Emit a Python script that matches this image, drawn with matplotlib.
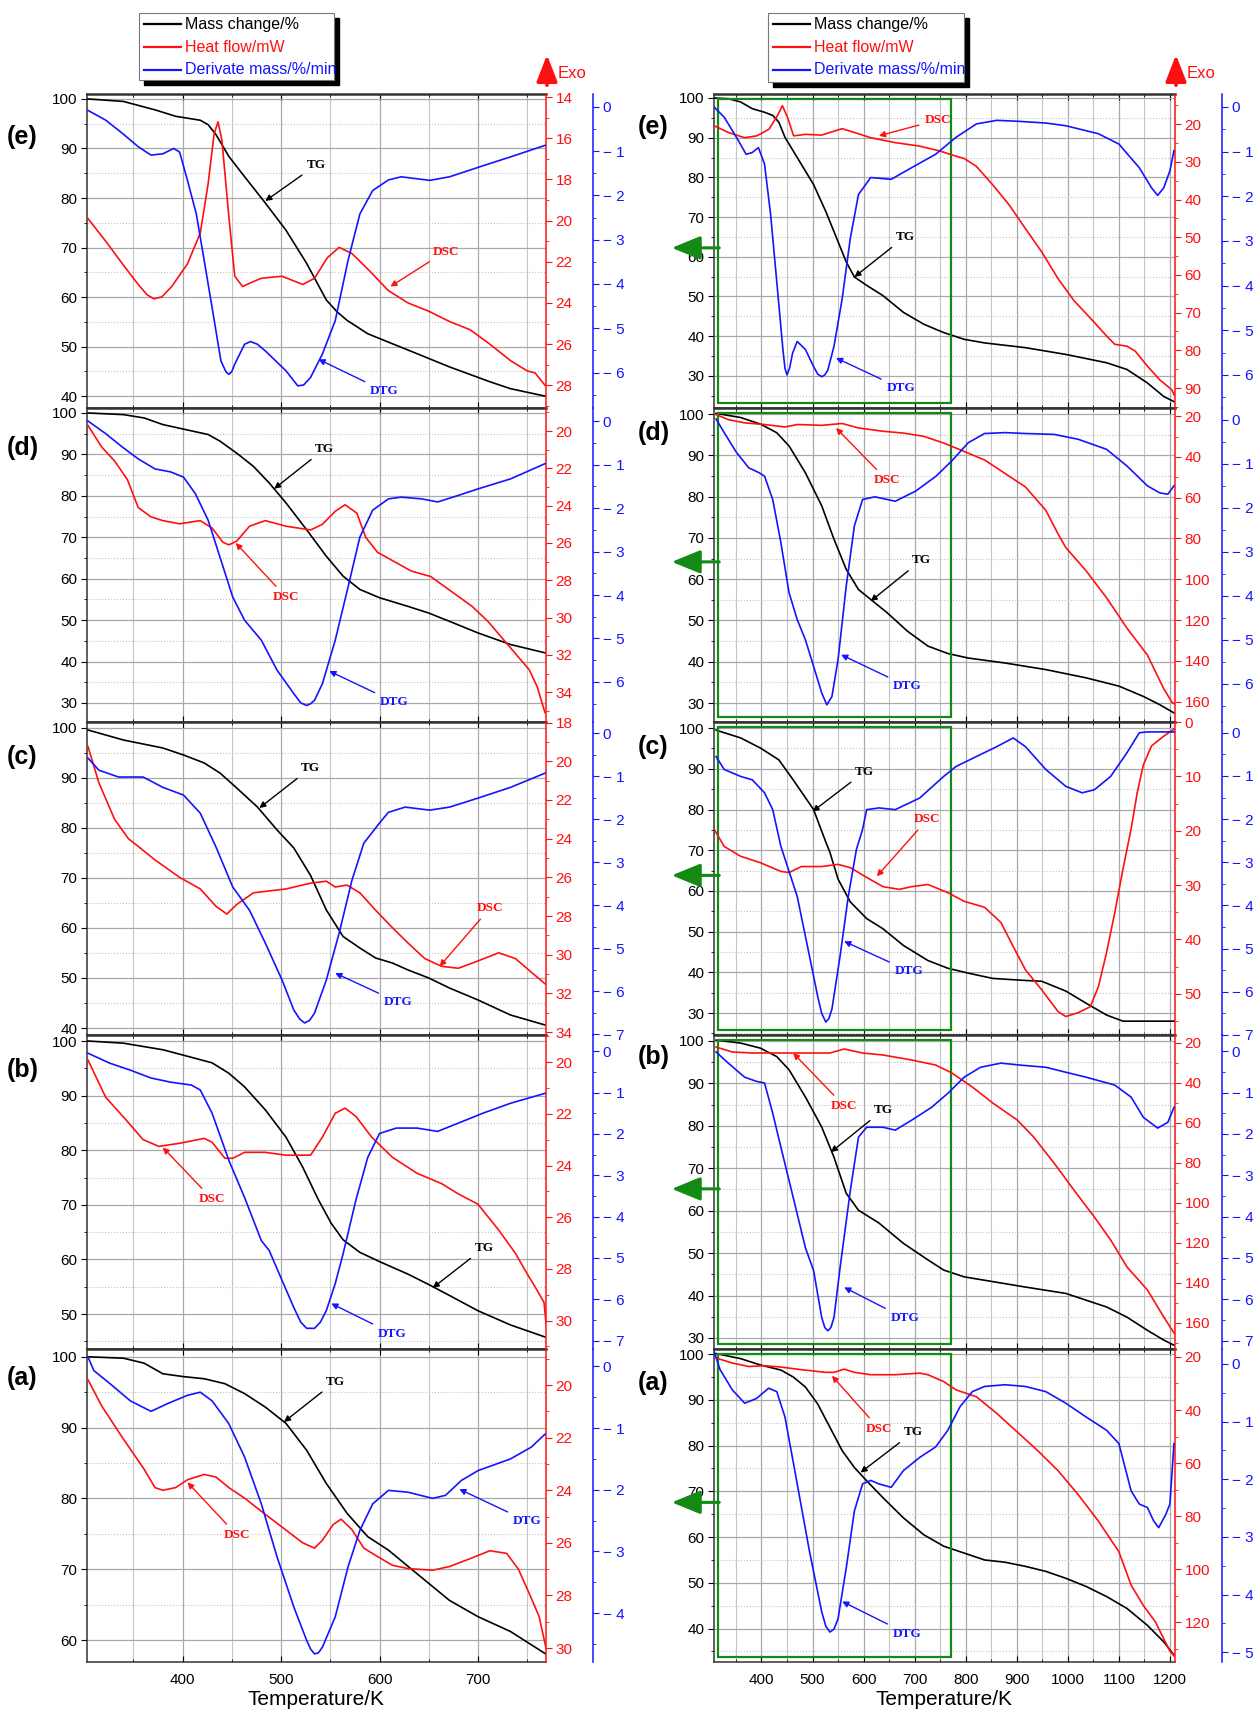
import matplotlib.pyplot as plt
import matplotlib.transforms as mtransforms
from matplotlib.lines import Line2D
from matplotlib.patches import Rectangle, FancyArrowPatch
from matplotlib.ticker import MultipleLocator, FuncFormatter

plt.rcParams['font.family'] = ['Liberation Sans', 'DejaVu Sans']

W, H = 1255, 1714

# ---------------- data: (temperature/K, value) ----------------
# left column
le_tg = [(304,100),(340,99.5),(372,97.8),(393,96.5),(418,95.7),(426,94.8),(434,92.8),(447,88.4),(463,84.3),(484,79),(505,73.5),(526,66.8),(546,59.4),(557,57),(567,55.3),(588,52.6),(609,50.9),(629,49.3),(671,45.9),(712,42.9),(733,41.5),(768,40)]
le_dsc = [(304,19.9),(322,21.0),(339,22.1),(355,23.1),(364,23.6),(371,23.8),(379,23.7),(389,23.2),(405,22.1),(418,20.6),(426,18.2),(432,15.8),(436,15.2),(440,16.1),(447,19.8),(453,22.7),(461,23.2),(470,23.0),(480,22.8),(501,22.7),(522,23.1),(534,22.8),(547,21.8),(559,21.3),(572,21.6),(589,22.4),(609,23.4),(629,24.0),(650,24.4),(671,24.9),(692,25.3),(712,26.0),(733,26.8),(750,27.3),(758,27.4),(768,28.0)]
le_dtg = [(304,-0.08),(322,-0.3),(339,-0.6),(355,-0.9),(368,-1.09),(380,-1.06),(391,-0.94),(397,-1.02),(405,-1.66),(414,-2.42),(422,-3.47),(430,-4.53),(439,-5.74),(444,-5.98),(447,-6.04),(450,-5.98),(453,-5.81),(463,-5.36),(469,-5.3),(476,-5.36),(484,-5.51),(505,-5.96),(517,-6.30),(523,-6.28),(530,-6.11),(542,-5.58),(555,-4.83),(568,-3.47),(580,-2.42),(593,-1.89),(609,-1.65),(622,-1.58),(651,-1.66),(671,-1.58),(712,-1.28),(733,-1.13),(768,-0.87)]

ld_tg = [(304,100),(340,99.6),(361,98.8),(380,97.2),(401,96.1),(426,94.8),(438,93.2),(455,90.3),(472,87.1),(488,83.1),(505,78.3),(526,71.8),(546,65.4),(563,60.6),(580,57.4),(600,55.4),(629,53.3),(650,51.7),(671,49.7),(700,46.9),(733,44.1),(768,42.1)]
ld_dsc = [(304,19.7),(318,20.86),(331,21.6),(344,22.6),(355,24.1),(368,24.6),(380,24.8),(397,24.97),(418,24.8),(430,25.2),(441,25.96),(447,26.1),(455,25.9),(468,25.1),(484,24.8),(505,25.1),(530,25.3),(542,25.0),(555,24.3),(565,23.95),(577,24.4),(586,25.7),(598,26.5),(615,27.0),(632,27.5),(652,27.8),(673,28.6),(694,29.4),(710,30.2),(731,31.5),(752,32.8),(760,33.7),(768,35.1)]
ld_dtg = [(304,0.0),(322,-0.29),(339,-0.6),(355,-0.87),(372,-1.1),(388,-1.17),(401,-1.29),(413,-1.67),(426,-2.28),(438,-3.13),(451,-4.05),(463,-4.58),(480,-5.04),(496,-5.73),(513,-6.27),(520,-6.48),(526,-6.54),(530,-6.5),(534,-6.42),(542,-6.04),(555,-5.04),(568,-3.82),(580,-2.67),(593,-2.05),(609,-1.79),(622,-1.75),(643,-1.79),(659,-1.86),(680,-1.71),(700,-1.56),(733,-1.33),(768,-0.98)]

lc_tg = [(304,99.6),(340,97.6),(380,96),(401,94.6),(422,93),(438,91),(455,88),(476,84.2),(496,79.6),(513,76),(530,70.5),(546,63.6),(563,58.3),(580,56),(596,54),(613,53),(629,51.6),(650,50),(671,48),(700,45.6),(733,42.6),(768,40.6)]
lc_dsc = [(304,19.24),(315,21.1),(331,23.0),(345,24.0),(355,24.4),(372,25.1),(397,26.0),(418,26.6),(434,27.5),(445,27.9),(455,27.4),(472,26.8),(505,26.6),(530,26.3),(546,26.2),(555,26.5),(567,26.4),(580,26.8),(596,27.7),(613,28.6),(629,29.4),(646,30.2),(663,30.6),(680,30.7),(696,30.4),(721,29.9),(738,30.2),(754,30.9),(768,31.5)]
lc_dtg = [(304,-0.58),(315,-0.86),(335,-1.02),(360,-1.02),(380,-1.26),(401,-1.44),(418,-1.86),(434,-2.65),(451,-3.58),(468,-4.12),(484,-4.88),(501,-5.74),(513,-6.44),(519,-6.65),(524,-6.74),(529,-6.68),(534,-6.51),(546,-5.74),(559,-4.65),(572,-3.42),(584,-2.56),(600,-2.09),(609,-1.84),(626,-1.72),(651,-1.79),(671,-1.72),(700,-1.51),(733,-1.26),(768,-0.93)]

lb_tg = [(304,100),(340,99.6),(380,98.4),(401,97.4),(430,96),(447,94.1),(463,91.6),(484,87.4),(505,82.4),(522,76.9),(538,70.9),(551,66.6),(563,63.6),(580,61.3),(600,59.6),(629,57.3),(650,55.4),(671,53.4),(700,50.6),(733,48),(768,45.8)]
lb_dsc = [(304,19.92),(322,21.36),(343,22.25),(360,23.0),(376,23.26),(397,23.14),(422,22.95),(430,23.1),(443,23.72),(451,23.72),(463,23.49),(484,23.49),(505,23.6),(530,23.6),(542,22.9),(555,21.98),(565,21.78),(576,22.1),(592,22.9),(613,23.68),(638,24.3),(663,24.7),(680,25.1),(700,25.5),(721,26.5),(738,27.4),(750,28.2),(758,28.7),(767,29.3),(769,30.1)]
lb_dtg = [(304,-0.05),(326,-0.29),(347,-0.46),(368,-0.65),(388,-0.75),(409,-0.82),(418,-0.94),(430,-1.5),(447,-2.64),(463,-3.54),(480,-4.58),(488,-4.82),(501,-5.54),(513,-6.2),(520,-6.55),(526,-6.7),(534,-6.7),(540,-6.55),(546,-6.27),(555,-5.62),(563,-4.9),(576,-3.6),(588,-2.57),(600,-1.99),(617,-1.86),(638,-1.86),(659,-1.94),(680,-1.74),(705,-1.5),(733,-1.26),(768,-1.02)]

la_tg = [(304,100),(340,99.8),(361,99.1),(380,97.6),(401,97.2),(422,96.9),(443,96.2),(463,94.8),(484,92.9),(505,90.6),(526,86.8),(546,82.1),(567,77.9),(588,74.6),(609,72.7),(629,70.4),(650,68),(671,65.6),(700,63.3),(733,61.2),(768,58.1)]
la_dsc = [(304,19.8),(318,20.8),(339,22.0),(361,23.2),(372,23.9),(380,24.0),(393,23.9),(405,23.6),(422,23.4),(434,23.5),(447,23.9),(463,24.3),(480,24.8),(501,25.4),(522,26.0),(534,26.2),(542,25.9),(553,25.3),(561,25.1),(572,25.5),(584,26.2),(597,26.5),(613,26.85),(629,26.98),(654,27.04),(671,26.9),(692,26.6),(712,26.3),(729,26.4),(741,27.0),(754,28.1),(762,28.8),(769,30.0)]
la_dtg = [(304,0.15),(310,-0.07),(327,-0.29),(347,-0.56),(368,-0.73),(384,-0.61),(405,-0.47),(418,-0.42),(430,-0.56),(447,-0.93),(463,-1.47),(480,-2.23),(496,-3.09),(513,-3.9),(526,-4.44),(530,-4.58),(534,-4.66),(538,-4.64),(542,-4.55),(555,-4.06),(568,-3.25),(580,-2.66),(593,-2.23),(609,-2.01),(629,-2.04),(654,-2.14),(667,-2.09),(683,-1.85),(700,-1.69),(733,-1.5),(754,-1.31),(768,-1.1)]

# right column
re_tg = [(307,100),(335,99.8),(359,99),(382,97.3),(406,96.4),(422,95.6),(434,93.9),(446,90.1),(470,85),(502,78.2),(526,71.4),(550,63.8),(566,58.7),(582,54.9),(606,52.8),(638,50.2),(678,46),(718,43),(757,40.9),(797,39.2),(837,38.3),(917,37.1),(996,35.4),(1076,33.3),(1116,31.6),(1156,28.2),(1188,24.8),(1208,23.5)]
re_dsc = [(307,20.4),(335,22.2),(367,23.6),(391,23.1),(415,21.3),(431,17.8),(441,15.1),(451,18.2),(463,23.1),(486,22.7),(518,22.9),(534,22.2),(558,21.2),(582,22.2),(614,23.6),(662,24.9),(709,25.8),(749,27.1),(781,28.5),(797,29.1),(821,31.2),(853,36.1),(885,41.4),(917,47.7),(949,53.9),(981,61),(1012,66.8),(1052,72.6),(1076,76.2),(1092,78.4),(1116,78.9),(1132,80.2),(1156,84.2),(1180,87.8),(1204,90.5),(1208,91.8)]
re_dtg = [(307,0),(327,-0.23),(351,-0.68),(370,-1.06),(382,-1.02),(394,-0.91),(406,-1.28),(418,-2.42),(430,-3.92),(442,-5.43),(446,-5.85),(450,-6.0),(455,-5.85),(461,-5.51),(470,-5.25),(486,-5.43),(502,-5.81),(510,-5.98),(518,-6.04),(524,-6.0),(530,-5.89),(542,-5.36),(558,-4.3),(574,-2.94),(590,-1.96),(614,-1.58),(654,-1.62),(694,-1.36),(741,-1.06),(781,-0.68),(821,-0.38),(861,-0.3),(901,-0.32),(957,-0.36),(996,-0.42),(1060,-0.6),(1100,-0.83),(1140,-1.36),(1164,-1.81),(1176,-1.98),(1188,-1.81),(1200,-1.43),(1208,-0.98)]

rd_tg = [(311,100.2),(359,99.2),(398,97.6),(430,95.5),(454,92.3),(486,85.8),(518,77.8),(542,69.7),(566,62.4),(590,57.5),(614,55.1),(646,51.9),(686,47.4),(726,43.8),(765,42),(805,40.9),(877,39.7),(957,38.1),(1036,36.1),(1100,34.1),(1148,31.6),(1180,29.6),(1208,27.6)]
rd_dsc = [(311,19.2),(335,21.7),(367,23.3),(406,24.1),(446,25.3),(470,24.1),(518,24.5),(558,23.6),(590,25.8),(638,27.4),(678,28.3),(718,29.9),(757,33.2),(797,37.3),(837,41.5),(877,48.1),(917,54.7),(957,66.2),(981,77.8),(996,84.4),(1036,95.9),(1076,109.1),(1116,124),(1156,137.2),(1188,153.7),(1204,160.3),(1208,161)]
rd_dtg = [(311,0.02),(327,-0.29),(351,-0.74),(375,-1.09),(395,-1.2),(406,-1.28),(422,-1.81),(438,-2.79),(454,-3.93),(470,-4.54),(486,-5.0),(502,-5.6),(518,-6.21),(528,-6.48),(538,-6.29),(550,-5.45),(566,-3.78),(582,-2.41),(598,-1.81),(622,-1.75),(662,-1.85),(702,-1.62),(742,-1.28),(773,-0.93),(805,-0.52),(837,-0.31),(877,-0.29),(917,-0.31),(973,-0.33),(1020,-0.44),(1076,-0.67),(1116,-1.05),(1156,-1.5),(1180,-1.66),(1196,-1.69),(1208,-1.5)]

rc_tg = [(311,99.5),(359,97.6),(398,95.1),(434,92.2),(462,87.3),(502,80),(526,72),(534,69.5),(550,62.9),(574,57.3),(606,53.2),(638,50.7),(678,46.6),(726,42.9),(765,41),(805,39.8),(853,38.5),(917,38.0),(949,37.8),(996,35.4),(1036,32.4),(1076,29.5),(1108,28.0),(1156,28),(1208,28)]
rc_dsc = [(307,19.7),(327,22.9),(359,24.7),(398,25.9),(438,27.5),(454,27.7),(478,26.6),(518,26.6),(550,26.2),(574,26.8),(606,28.6),(638,30.3),(670,30.8),(694,30.3),(726,29.9),(765,31.4),(797,33),(837,34.1),(869,36.9),(893,41.3),(917,45.6),(949,49.3),(981,53.3),(996,54.2),(1020,53.5),(1044,52.4),(1060,48.7),(1076,42.4),(1092,35.1),(1108,27.1),(1124,19.7),(1136,13),(1148,7.9),(1164,4.4),(1188,2.6),(1208,1.3)]
rc_dtg = [(311,-0.55),(327,-0.85),(359,-1.01),(382,-1.09),(406,-1.39),(422,-1.78),(438,-2.63),(470,-3.79),(494,-5.17),(510,-6.1),(518,-6.5),(526,-6.7),(532,-6.62),(538,-6.4),(554,-5.17),(570,-3.79),(586,-2.7),(598,-2.24),(606,-1.78),(630,-1.74),(662,-1.78),(710,-1.51),(757,-1.01),(781,-0.78),(821,-0.55),(861,-0.32),(893,-0.12),(917,-0.32),(957,-0.85),(996,-1.24),(1028,-1.39),(1052,-1.32),(1084,-1.01),(1116,-0.46),(1140,0.0),(1156,0.02),(1188,0.02),(1208,0.02)]

rb_tg = [(311,100.2),(359,99.5),(398,98.3),(430,96.3),(454,93.2),(486,86.8),(518,79.7),(542,72.6),(566,64.1),(590,60.1),(630,57.1),(678,52.3),(726,48.4),(757,46),(797,44.4),(837,43.6),(917,42),(996,40.5),(1076,37.3),(1116,34.9),(1156,31.8),(1188,29.5),(1208,28.3)]
rb_dsc = [(311,22),(343,24.5),(382,25),(438,25),(534,25),(562,23),(598,25),(638,26),(694,28.5),(741,31),(773,35),(813,42),(853,50),(901,58.5),(933,67),(973,80),(1012,93.5),(1052,107),(1084,118.5),(1116,132),(1156,143.5),(1188,157),(1208,165)]
rb_dtg = [(311,-0.02),(335,-0.29),(367,-0.63),(390,-0.73),(406,-0.77),(422,-1.5),(438,-2.32),(462,-3.53),(486,-4.75),(502,-5.3),(518,-6.44),(524,-6.68),(530,-6.76),(536,-6.68),(542,-6.44),(554,-5.23),(574,-3.37),(590,-2.08),(606,-1.84),(638,-1.84),(662,-1.91),(694,-1.67),(733,-1.36),(765,-1.02),(797,-0.63),(829,-0.39),(869,-0.29),(909,-0.34),(957,-0.39),(996,-0.51),(1036,-0.63),(1092,-0.82),(1124,-1.11),(1148,-1.6),(1176,-1.86),(1196,-1.72),(1208,-1.36)]

ra_tg = [(311,100.1),(359,99),(398,97.6),(438,96.5),(462,95),(486,92.8),(510,89.1),(534,84),(558,78.9),(582,75.2),(606,72.3),(638,68.6),(678,64.2),(718,60.5),(757,58),(797,56.5),(837,55),(877,54.5),(917,53.6),(957,52.5),(996,51),(1036,49.2),(1076,47),(1116,44.4),(1156,40.7),(1188,37.1),(1208,34.2)]
ra_dsc = [(311,20.4),(343,22.3),(375,23.6),(406,23.3),(438,23.8),(478,24.8),(526,25.8),(542,25.8),(562,24.6),(582,25.8),(614,26.7),(662,26.7),(710,26.1),(726,26.7),(757,29.3),(781,32.4),(821,35),(861,41.3),(901,48.3),(941,55.3),(981,62.9),(1020,71.8),(1060,81.9),(1100,93.4),(1124,106),(1148,113.7),(1172,120),(1188,126.3),(1200,130.8),(1208,132.7)]
ra_dtg = [(307,0.22),(319,-0.1),(343,-0.45),(367,-0.68),(390,-0.6),(414,-0.42),(430,-0.48),(446,-0.92),(470,-2.08),(494,-3.25),(518,-4.3),(526,-4.55),(534,-4.65),(542,-4.6),(550,-4.42),(566,-3.54),(582,-2.55),(598,-2.08),(614,-2.02),(630,-2.08),(654,-2.14),(678,-1.85),(710,-1.62),(741,-1.44),(765,-1.15),(789,-0.74),(813,-0.48),(837,-0.39),(877,-0.36),(917,-0.39),(957,-0.48),(996,-0.68),(1036,-0.92),(1076,-1.15),(1100,-1.38),(1124,-2.2),(1140,-2.43),(1156,-2.49),(1168,-2.72),(1178,-2.84),(1192,-2.61),(1200,-2.43),(1208,-1.38)]

panel_tags = ['(e)', '(d)', '(c)', '(b)', '(a)']
legend_names = ['Mass change/%', 'Heat flow/mW', 'Derivate mass/%/min']

# ---------------- layout (pixels) ----------------
rows = [(94, 408), (408, 722), (722, 1035), (1035, 1349), (1349, 1662)]
cols = {
    'L': dict(x0=87, x1=546, blue=47, xlim=(303, 769), xmaj=100, xmin=50),
    'R': dict(x0=714, x1=1175, blue=47, xlim=(307, 1210), xmaj=100, xmin=50),
}

# per panel axis setup: mass lim, mass ticks, heat lim (inverted), heat ticks, dtg lim, dtg ticks
left_axes = [
    ((37.6, 101), range(40, 101, 10), (29.1, 13.85), range(14, 29, 2), (-6.8, 0.29), range(-6, 1)),
    ((25.4, 101.2), range(30, 101, 10), (35.6, 18.76), range(20, 35, 2), (-6.92, 0.3), range(-6, 1)),
    ((38.6, 101.2), range(40, 101, 10), (34.15, 17.97), range(18, 35, 2), (-7.02, 0.26), range(-7, 1)),
    ((43.6, 101.1), range(50, 101, 10), (31.1, 18.95), range(20, 31, 2), (-7.2, 0.39), range(-7, 1)),
    ((56.9, 101.1), range(60, 101, 10), (30.53, 18.63), range(20, 31, 2), (-4.79, 0.28), range(-4, 1)),
]
right_axes = [
    ((21.9, 101.0), range(30, 101, 10), (95.3, 12), range(20, 91, 10), (-6.74, 0.29), range(-6, 1)),
    ((25.4, 101.5), range(30, 101, 10), (170, 16), range(20, 161, 20), (-6.87, 0.27), range(-6, 1)),
    ((24.6, 101.5), range(30, 101, 10), (57.6, 0), range(0, 51, 10), (-6.95, 0.25), range(-7, 1)),
    ((27.4, 101.4), range(30, 101, 10), (173, 16), range(20, 161, 20), (-7.2, 0.39), range(-7, 1)),
    ((32.7, 101.1), range(40, 101, 10), (135, 17), range(20, 121, 20), (-5.17, 0.26), range(-5, 1)),
]

left_data = [(le_tg, le_dsc, le_dtg), (ld_tg, ld_dsc, ld_dtg), (lc_tg, lc_dsc, lc_dtg), (lb_tg, lb_dsc, lb_dtg), (la_tg, la_dsc, la_dtg)]
right_data = [(re_tg, re_dsc, re_dtg), (rd_tg, rd_dsc, rd_dtg), (rc_tg, rc_dsc, rc_dtg), (rb_tg, rb_dsc, rb_dtg), (ra_tg, ra_dsc, ra_dtg)]

# annotation positions: (series, label xy, arrow target xy)
left_notes = [
    [('TG', (536, 86.7), (484, 79.4)), ('DSC', (667, 21.5), (611, 23.2)), ('DTG', (605, -6.42), (538, -5.7))],
    [('TG', (544, 91.3), (493, 81.7)), ('DSC', (505, 28.9), (454, 26.0)), ('DTG', (615, -6.46), (549, -5.75))],
    [('TG', (530, 92), (478, 84)), ('DSC', (712, 27.6), (661, 30.6)), ('DTG', (619, -6.26), (555, -5.58))],
    [('TG', (706, 62.1), (654, 54.8)), ('DSC', (430, 25.3), (380, 23.3)), ('DTG', (613, -6.83), (551, -6.1))],
    [('TG', (555, 96.5), (503, 90.8)), ('DSC', (455, 25.7), (405, 23.7)), ('DTG', (750, -2.51), (681, -1.99))],
]
right_notes = [
    [('TG', (681, 65), (582, 54.9)), ('DSC', (745, 18.9), (630, 23.1)), ('DTG', (673, -6.3), (546, -5.62))],
    [('TG', (713, 64.6), (614, 54.7)), ('DSC', (646, 51.4), (546, 25.8)), ('DTG', (686, -6.06), (556, -5.34))],
    [('TG', (602, 89.3), (500, 79.5)), ('DSC', (725, 17.9), (626, 28.4)), ('DTG', (689, -5.52), (562, -4.83))],
    [('TG', (638, 83.7), (536, 73.8)), ('DSC', (562, 51.5), (462, 25)), ('DTG', (681, -6.46), (562, -5.71))],
    [('TG', (697, 82.9), (594, 74.1)), ('DSC', (630, 47), (538, 27.1)), ('DTG', (685, -4.68), (558, -4.12))],
]
left_tag_y = [137, 448, 757, 1070, 1378]
right_tag_y = [127, 433, 747, 1057, 1383]

RED = '#ff1010'
BLUE = '#1414ff'
GREEN = '#138a13'

fig = plt.figure(figsize=(W / 100, H / 100), dpi=100)
fig.patch.set_facecolor('white')


def fp(x, y):
    return (x / W, 1 - y / H)


def blue_fmt(v, pos):
    if abs(v) < 1e-9:
        return '0'
    return '\u2212 %d' % abs(round(v))


def make_panel(c, row, axcfg, data, notes, bottom, green):
    y0, y1 = rows[row]
    x0, x1 = c['x0'], c['x1']
    ax = fig.add_axes([x0 / W, 1 - y1 / H, (x1 - x0) / W, (y1 - y0) / H])
    mlim, mticks, rlim, rticks, blim, bticks = axcfg
    tg, dsc, dtg = data

    ax.set_xlim(*c['xlim'])
    ax.set_ylim(*mlim)
    ax.set_yticks(list(mticks))
    ax.yaxis.set_minor_locator(MultipleLocator(5))
    ax.xaxis.set_major_locator(MultipleLocator(c['xmaj']))
    ax.xaxis.set_minor_locator(MultipleLocator(c['xmin']))
    ax.grid(True, which='major', color='#a9a9a9', lw=0.9)
    ax.yaxis.grid(True, which='minor', color='#c4c4c4', lw=0.8, ls=':')
    ax.xaxis.grid(True, which='minor', color='#c4c4c4', lw=0.8)
    ax.tick_params(axis='y', which='major', direction='out', length=4, labelsize=11, pad=3)
    ax.tick_params(axis='y', which='minor', direction='out', length=2.5)
    ax.tick_params(axis='x', which='both', direction='in', top=True, length=4, labelsize=11, pad=8)
    ax.tick_params(axis='x', which='minor', length=2.5)
    if not bottom:
        ax.tick_params(axis='x', labelbottom=False)
    for s in ax.spines.values():
        s.set_color('#333333')
        s.set_linewidth(1.1)
    ax.spines['top'].set_linewidth(1.8)
    ax.spines['right'].set_visible(False)

    ax.plot([p[0] for p in tg], [p[1] for p in tg], color='black', lw=1.2, zorder=3)

    ax2 = ax.twinx()
    ax2.set_ylim(*rlim)
    step = rticks.step
    ax2.set_yticks(list(rticks))
    ax2.yaxis.set_minor_locator(MultipleLocator(step / 2))
    ax2.tick_params(axis='y', which='major', colors=RED, direction='out', length=4, labelsize=11, pad=3)
    ax2.tick_params(axis='y', which='minor', colors=RED, direction='out', length=2.5)
    for k in ('left', 'top', 'bottom'):
        ax2.spines[k].set_visible(False)
    ax2.spines['right'].set_color(RED)
    ax2.spines['right'].set_linewidth(1.1)
    ax2.plot([p[0] for p in dsc], [p[1] for p in dsc], color=RED, lw=1.2)

    ax3 = ax.twinx()
    ax3.set_ylim(*blim)
    ax3.set_yticks(list(bticks))
    ax3.yaxis.set_minor_locator(MultipleLocator(0.5))
    ax3.yaxis.set_major_formatter(FuncFormatter(blue_fmt))
    ax3.spines['right'].set_position(('axes', 1 + c['blue'] / (x1 - x0)))
    ax3.tick_params(axis='y', which='major', colors=BLUE, direction='out', length=4, labelsize=11, pad=3)
    ax3.tick_params(axis='y', which='minor', colors=BLUE, direction='out', length=2.5)
    for k in ('left', 'top', 'bottom'):
        ax3.spines[k].set_visible(False)
    ax3.spines['right'].set_color(BLUE)
    ax3.spines['right'].set_linewidth(1.1)
    ax3.plot([p[0] for p in dtg], [p[1] for p in dtg], color=BLUE, lw=1.2)

    target = {'TG': (ax, 'black'), 'DSC': (ax2, RED), 'DTG': (ax3, BLUE)}
    for name, lab, tip in notes:
        a, col = target[name]
        a.annotate(name, xy=tip, xytext=lab, color=col, fontsize=9.5, fontweight='bold',
                   family=['Liberation Serif', 'DejaVu Serif'], ha='center', va='center',
                   arrowprops=dict(arrowstyle='-|>', color=col, lw=1.0, mutation_scale=9,
                                   shrinkA=2, shrinkB=0), zorder=6)

    if green:
        tr = mtransforms.blended_transform_factory(ax.transData, ax.transAxes)
        ax.add_patch(Rectangle((315, 0.015), 772 - 315, 0.97, transform=tr, fill=False,
                               ec=GREEN, lw=1.6, zorder=4))
        ym = y1 - 0.51 * (y1 - y0)
        fig.add_artist(FancyArrowPatch(fp(x0 + 8, ym), fp(669, ym), transform=fig.transFigure,
                                       arrowstyle='-|>,head_width=0.45,head_length=1.1',
                                       mutation_scale=16, color=GREEN, lw=2.2))
    if bottom:
        ax.set_xlabel('Temperature/K', fontsize=15, labelpad=2)
    return ax


for i in range(5):
    make_panel(cols['L'], i, left_axes[i], left_data[i], left_notes[i], i == 4, False)
    make_panel(cols['R'], i, right_axes[i], right_data[i], right_notes[i], i == 4, True)
    fig.text(*fp(7, left_tag_y[i]), panel_tags[i], fontsize=18, fontweight='bold', ha='left', va='center')
    fig.text(*fp(638, right_tag_y[i]), panel_tags[i], fontsize=18, fontweight='bold', ha='left', va='center')

# legend boxes with shadow
for bx, by, bw, bh in [(139, 13, 195, 67), (768, 13, 196, 69)]:
    fig.add_artist(Rectangle(fp(bx + 5, by + bh + 5), bw / W, bh / H, transform=fig.transFigure,
                             color='black', zorder=1))
    fig.add_artist(Rectangle(fp(bx, by + bh), bw / W, bh / H, transform=fig.transFigure,
                             fc='white', ec='#777777', lw=0.8, zorder=2))
    for j, (name, col) in enumerate(zip(legend_names, ['black', RED, BLUE])):
        yy = by + 11 + j * 23
        fig.add_artist(Line2D([(bx + 5) / W, (bx + 42) / W], [1 - yy / H] * 2, color=col, lw=1.6,
                              transform=fig.transFigure, zorder=3))
        fig.text(*fp(bx + 46, yy), name, color=col, fontsize=11.5, ha='left', va='center', zorder=3)

# Exo arrows
for ex in (547, 1176):
    fig.add_artist(FancyArrowPatch(fp(ex, 88), fp(ex, 52), transform=fig.transFigure,
                                   arrowstyle='-|>,head_width=0.35,head_length=0.9',
                                   mutation_scale=18, color=RED, lw=2.6))
    fig.text(*fp(ex + 11, 74), 'Exo', color=RED, fontsize=12, ha='left', va='center')

fig.savefig('out.png', dpi=100)
